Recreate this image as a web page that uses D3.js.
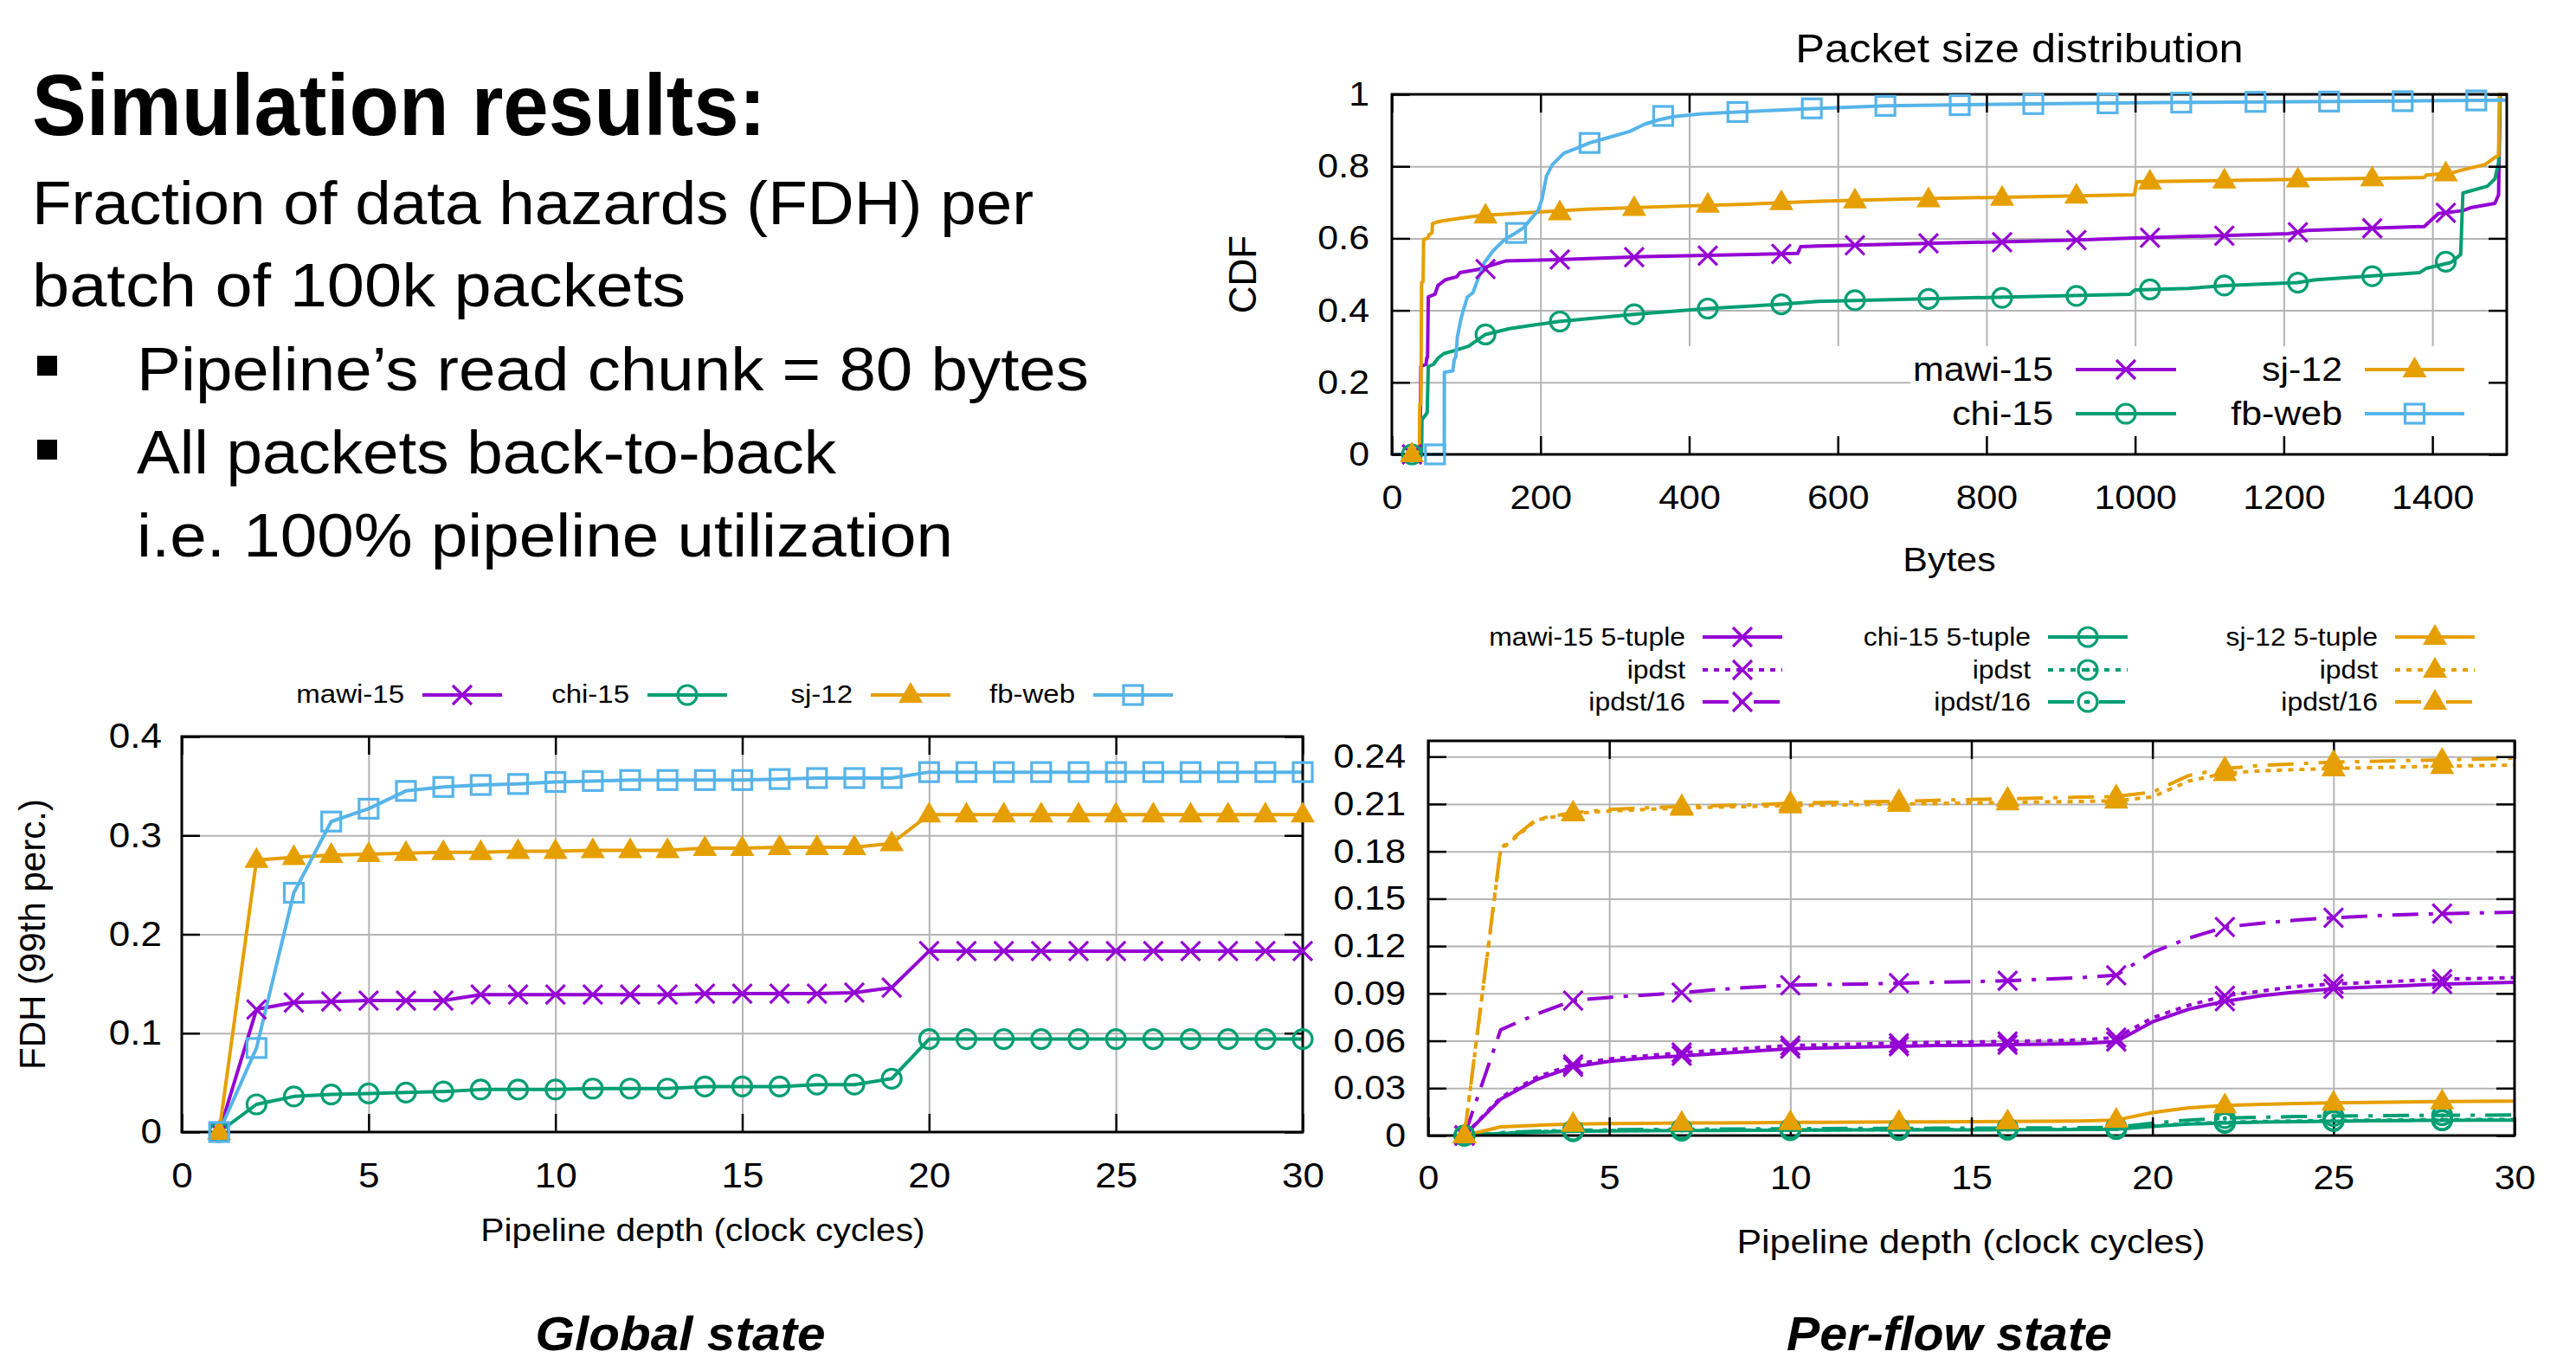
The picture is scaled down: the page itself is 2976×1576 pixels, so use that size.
<!DOCTYPE html>
<html lang="en">
<head>
<meta charset="UTF-8">
<title>Simulation results</title>
<script src="https://cdn.jsdelivr.net/npm/d3@7"></script>
<style>
  * { margin: 0; padding: 0; box-sizing: border-box; }
  body { background: #fff; width: 2976px; height: 1576px; overflow: hidden; }
  svg { display: block; }
</style>
</head>
<body>
<svg id="slide" width="2976" height="1576"></svg>
<script>
// ---------- data ----------
// packet size CDF (bytes, cdf)
const cdfMawi = [[0,0],[38,0],[38.5,0.14],[39,0.244],[46,0.25],[47,0.268],[48,0.27],[49,0.437],[58,0.445],[62,0.469],[72,0.485],[87,0.493],[91.6,0.505],[115,0.513],[140,0.529],[153,0.537],[223,0.541],[340,0.549],[546,0.558],[550,0.577],[573,0.579],[914,0.595],[999,0.601],[1206,0.613],[1231,0.622],[1389,0.633],[1408,0.669],[1441,0.677],[1451,0.685],[1484,0.697],[1489,0.721],[1491,1.0]];
const cdfChi = [[0,0],[40,0],[40.5,0.096],[47.5,0.116],[49,0.244],[56,0.25],[62.5,0.268],[70,0.28],[84,0.288],[103,0.30],[126,0.333],[158,0.349],[197,0.361],[224,0.369],[325,0.389],[425,0.405],[524,0.417],[573,0.425],[993,0.445],[1000,0.457],[1072,0.461],[1121,0.469],[1218,0.477],[1243,0.485],[1383,0.505],[1392,0.517],[1425,0.533],[1438,0.555],[1441,0.726],[1474,0.745],[1484,0.765],[1489,0.81],[1491,1.0]];
const cdfSj = [[0,0],[37,0],[37.5,0.14],[39,0.14],[40,0.477],[42,0.48],[42.7,0.597],[48,0.6],[50,0.61],[54,0.615],[54.6,0.641],[62,0.646],[70,0.649],[95,0.657],[117,0.663],[150,0.667],[196,0.673],[262,0.681],[379,0.689],[476,0.695],[576,0.703],[700,0.71],[850,0.715],[999,0.721],[1002,0.757],[1200,0.763],[1389,0.769],[1392,0.776],[1425,0.781],[1440,0.79],[1471,0.805],[1484,0.825],[1489,0.83],[1490,1.0],[1500,1.0]];
const cdfFb = [[0,0],[70.5,0],[70.6,0.228],[82,0.232],[84,0.264],[86,0.27],[88,0.325],[92.6,0.373],[95.7,0.397],[101.5,0.437],[109,0.449],[117,0.493],[124.6,0.533],[136,0.565],[151.8,0.597],[165,0.613],[177,0.629],[186.7,0.653],[196.6,0.677],[202,0.709],[208,0.773],[216,0.805],[231.6,0.837],[247,0.849],[266,0.865],[293,0.881],[320,0.897],[340,0.917],[359,0.929],[379,0.938],[417,0.946],[464,0.951],[553,0.959],[664,0.968],[865,0.9736],[1060,0.9776],[1365,0.9816],[1500,0.984]];
// CDF point markers
const cdfMarkBytes = [27, 126, 226, 326, 425, 524, 623, 722, 821, 921, 1020, 1120, 1219, 1319, 1418];
const cdfMawiMarks = [0, 0.515, 0.541, 0.548, 0.552, 0.557, 0.581, 0.586, 0.589, 0.595, 0.602, 0.607, 0.617, 0.628, 0.671];
const cdfChiMarks  = [0, 0.333, 0.369, 0.389, 0.405, 0.417, 0.428, 0.432, 0.435, 0.440, 0.458, 0.469, 0.477, 0.495, 0.535];
const cdfSjMarks   = [0, 0.663, 0.672, 0.684, 0.693, 0.700, 0.705, 0.708, 0.712, 0.718, 0.757, 0.760, 0.763, 0.766, 0.780];
const cdfFbBytes   = [58, 167, 266, 365, 465, 565, 664, 764, 863, 963, 1062, 1162, 1261, 1360, 1459];
const cdfFbMarks   = [0, 0.615, 0.865, 0.94, 0.951, 0.961, 0.968, 0.970, 0.973, 0.975, 0.977, 0.979, 0.980, 0.981, 0.983];
const cdfXTicks = [0, 200, 400, 600, 800, 1000, 1200, 1400];
const cdfYTicks = [0, 0.2, 0.4, 0.6, 0.8, 1];

// pipeline depth (clock cycles)
const depth = [1,2,3,4,5,6,7,8,9,10,11,12,13,14,15,16,17,18,19,20,21,22,23,24,25,26,27,28,29,30];
const depthTicks = [0, 5, 10, 15, 20, 25, 30];

// global state, FDH 99th percentile
const globMawi = [0,0.124,0.131,0.132,0.133,0.133,0.133,0.139,0.139,0.139,0.139,0.139,0.139,0.140,0.140,0.140,0.140,0.141,0.146,0.183,0.183,0.183,0.183,0.183,0.183,0.183,0.183,0.183,0.183,0.183];
const globChi  = [0,0.028,0.036,0.038,0.039,0.040,0.041,0.043,0.043,0.043,0.044,0.044,0.044,0.046,0.046,0.046,0.048,0.048,0.054,0.094,0.094,0.094,0.094,0.094,0.094,0.094,0.094,0.094,0.094,0.094];
const globSj   = [0,0.275,0.278,0.280,0.281,0.282,0.283,0.283,0.284,0.284,0.285,0.285,0.285,0.287,0.287,0.288,0.288,0.288,0.292,0.321,0.321,0.321,0.321,0.321,0.321,0.321,0.321,0.321,0.321,0.321];
const globFb   = [0,0.085,0.242,0.314,0.327,0.345,0.349,0.351,0.352,0.354,0.355,0.356,0.356,0.356,0.356,0.357,0.358,0.358,0.358,0.364,0.364,0.364,0.364,0.364,0.364,0.364,0.364,0.364,0.364,0.364];
const globYTicks = [0, 0.1, 0.2, 0.3, 0.4];

// per-flow state
const pfMawi5  = [0,0.023,0.0355,0.0435,0.047,0.049,0.0505,0.052,0.0535,0.055,0.0555,0.056,0.0565,0.057,0.0572,0.0575,0.0578,0.0582,0.0595,0.072,0.080,0.085,0.0885,0.091,0.093,0.094,0.095,0.096,0.0965,0.097];
const pfMawiIp = [0,0.024,0.037,0.045,0.0485,0.0505,0.0525,0.054,0.0555,0.057,0.0575,0.058,0.0585,0.059,0.0593,0.0596,0.060,0.0605,0.062,0.0745,0.0825,0.0885,0.0915,0.0945,0.096,0.097,0.098,0.099,0.0995,0.100];
const pfMawi16 = [0,0.067,0.077,0.0855,0.0875,0.089,0.0905,0.0925,0.094,0.0952,0.0956,0.096,0.0965,0.097,0.0975,0.098,0.099,0.100,0.1015,0.116,0.125,0.132,0.1345,0.1365,0.138,0.139,0.140,0.1405,0.141,0.1415];
const pfChi5   = [0,0.0012,0.0022,0.0027,0.0029,0.0030,0.0031,0.0032,0.0033,0.0034,0.0034,0.0035,0.0035,0.0036,0.0036,0.0037,0.0037,0.0038,0.0040,0.0058,0.0072,0.0080,0.0085,0.0088,0.0091,0.0093,0.0095,0.0096,0.0097,0.0098];
const pfChiIp  = [0,0.0014,0.0024,0.0029,0.0031,0.0032,0.0033,0.0034,0.0035,0.0036,0.0036,0.0037,0.0037,0.0038,0.0038,0.0039,0.0039,0.0040,0.0042,0.0061,0.0076,0.0084,0.0089,0.0092,0.0095,0.0097,0.0099,0.0100,0.0101,0.0102];
const pfChi16  = [0,0.0018,0.0028,0.0033,0.0036,0.0038,0.0040,0.0041,0.0042,0.0043,0.0044,0.0045,0.0045,0.0046,0.0047,0.0047,0.0048,0.0049,0.0052,0.0078,0.0098,0.0110,0.0116,0.0120,0.0123,0.0125,0.0127,0.0128,0.0129,0.0130];
const pfSj5    = [0,0.0055,0.0065,0.0072,0.0075,0.0077,0.0079,0.0080,0.0081,0.0083,0.0084,0.0085,0.0086,0.0087,0.0088,0.0089,0.0090,0.0092,0.0098,0.0145,0.0175,0.0190,0.0198,0.0203,0.0207,0.0210,0.0213,0.0215,0.0217,0.0218];
const pfSjIp   = [0,0.181,0.200,0.204,0.2055,0.2065,0.2075,0.208,0.2085,0.209,0.2093,0.2096,0.210,0.2103,0.2106,0.211,0.2113,0.2116,0.212,0.2145,0.2245,0.2295,0.231,0.2318,0.2325,0.233,0.2335,0.234,0.2343,0.2347];
const pfSj16   = [0,0.182,0.2005,0.2045,0.2065,0.2075,0.2085,0.209,0.2095,0.2105,0.211,0.2113,0.2117,0.2123,0.2128,0.2133,0.2138,0.2143,0.2148,0.2175,0.228,0.2325,0.2345,0.2355,0.2365,0.237,0.2375,0.238,0.2385,0.239];
const pfYTicks = [0, 0.03, 0.06, 0.09, 0.12, 0.15, 0.18, 0.21, 0.24];

// ---------- styles ----------
const FONT = '"Liberation Sans", Arial, Helvetica, sans-serif';
const PURPLE = "#9400d3", GREEN = "#009e73", ORANGE = "#e69f00", BLUE = "#56b4e9";
const GRID = "#b4b4b4";
const SX = 1.1;   // plot text is a bit wider than Liberation Sans
const LW = 4;     // series line width

const svg = d3.select("#slide").attr("font-family", FONT);

function stretch(sel, sx) {
    sel.each(function () {
        const t = d3.select(this);
        const ax = +t.attr("x") || 0;
        t.attr("transform", `translate(${ax * (1 - sx)},0) scale(${sx},1)`);
    });
}

function drawMarker(g, type, cx, cy, color) {
    const s = 11;
    if (type === "x") {
        g.append("path")
            .attr("d", `M${cx - s},${cy - s}L${cx + s},${cy + s}M${cx - s},${cy + s}L${cx + s},${cy - s}`)
            .attr("stroke", color).attr("stroke-width", 3.2).attr("fill", "none");
    } else if (type === "circle" || type === "circledot") {
        g.append("circle").attr("cx", cx).attr("cy", cy).attr("r", s)
            .attr("stroke", color).attr("stroke-width", 3.2).attr("fill", "none");
        if (type === "circledot") {
            g.append("circle").attr("cx", cx).attr("cy", cy).attr("r", 2.5).attr("fill", color);
        }
    } else if (type === "square") {
        g.append("rect").attr("x", cx - s).attr("y", cy - s).attr("width", 2 * s).attr("height", 2 * s)
            .attr("stroke", color).attr("stroke-width", 3.2).attr("fill", "none");
    } else if (type === "triangle") {
        g.append("path").attr("d", `M${cx},${cy - 15}L${cx + 14},${cy + 9}L${cx - 14},${cy + 9}Z`)
            .attr("fill", color);
    }
}

// grid lines through d3 axes
function drawGrid(g, x, y, xTicks, yTicks) {
    const [L, R] = x.range(), [B, T] = y.range();
    const grid = g.append("g");
    grid.append("g").attr("class", "gx").attr("transform", `translate(0,${B})`)
        .call(d3.axisBottom(x).tickValues(xTicks.filter(t => x(t) > L + 1 && x(t) < R - 1))
            .tickSize(-(B - T)).tickFormat(""));
    grid.append("g").attr("class", "gy").attr("transform", `translate(${L},0)`)
        .call(d3.axisLeft(y).tickValues(yTicks.filter(t => y(t) < B - 1 && y(t) > T + 1))
            .tickSize(-(R - L)).tickFormat(""));
    grid.selectAll(".domain").remove();
    grid.selectAll("line").attr("stroke", GRID).attr("stroke-width", 2);
    return grid;
}

// inward ticks on four sides, labels, border
function drawAxes(g, x, y, xTicks, yTicks, fs, xPad, yPad) {
    const [L, R] = x.range(), [B, T] = y.range();
    const fmt = d => String(d);
    const axB = g.append("g").attr("transform", `translate(0,${B})`)
        .call(d3.axisBottom(x).tickValues(xTicks).tickSize(-21).tickPadding(xPad).tickFormat(fmt));
    const axT = g.append("g").attr("transform", `translate(0,${T})`)
        .call(d3.axisTop(x).tickValues(xTicks).tickSize(-21).tickFormat(""));
    const axL = g.append("g").attr("transform", `translate(${L},0)`)
        .call(d3.axisLeft(y).tickValues(yTicks).tickSize(-21).tickPadding(yPad).tickFormat(fmt));
    const axR = g.append("g").attr("transform", `translate(${R},0)`)
        .call(d3.axisRight(y).tickValues(yTicks).tickSize(-21).tickFormat(""));
    [axB, axT, axL, axR].forEach(a => {
        a.select(".domain").remove();
        a.attr("font-size", fs).attr("font-family", FONT);
        a.selectAll("line").attr("stroke", "#000").attr("stroke-width", 2.5);
        a.selectAll("text").attr("fill", "#000");
        stretch(a.selectAll("text"), SX);
    });
    g.append("rect").attr("x", L).attr("y", T).attr("width", R - L).attr("height", B - T)
        .attr("fill", "none").attr("stroke", "#000").attr("stroke-width", 3);
}

function legendItem(g, label, textEnd, baseline, s0, s1, lineY, color, dash, mk, fs) {
    const t = g.append("text").attr("x", textEnd).attr("y", baseline)
        .attr("text-anchor", "end").attr("font-size", fs).text(label);
    stretch(t, SX);
    g.append("line").attr("x1", s0).attr("x2", s1).attr("y1", lineY).attr("y2", lineY)
        .attr("stroke", color).attr("stroke-width", LW).attr("stroke-dasharray", dash);
    drawMarker(g, mk, (s0 + s1) / 2, lineY, color);
}

// ---------- slide text ----------
const txt = svg.append("g").attr("fill", "#000");
const slideLines = [
    { t: "Simulation results:", x: 37, y: 156, fs: 100, w: 848, bold: true },
    { t: "Fraction of data hazards (FDH) per", x: 37, y: 259, fs: 70, w: 1157 },
    { t: "batch of 100k packets", x: 37, y: 354, fs: 70, w: 755 },
    { t: "Pipeline\u2019s read chunk = 80 bytes", x: 158, y: 451, fs: 70, w: 1100 },
    { t: "All packets back-to-back", x: 158, y: 547, fs: 70, w: 808 },
    { t: "i.e. 100% pipeline utilization", x: 158, y: 643, fs: 70, w: 943 }
];
slideLines.forEach(l => {
    txt.append("text").attr("x", l.x).attr("y", l.y).attr("font-size", l.fs)
        .attr("font-weight", l.bold ? "bold" : "normal")
        .attr("textLength", l.w).attr("lengthAdjust", "spacingAndGlyphs").text(l.t);
});
[411, 508].forEach(top => txt.append("rect").attr("x", 43).attr("y", top).attr("width", 23).attr("height", 23));

txt.append("text").attr("x", 786).attr("y", 1560).attr("text-anchor", "middle")
    .attr("font-size", 56).attr("font-style", "italic").attr("font-weight", "bold")
    .attr("textLength", 335).attr("lengthAdjust", "spacingAndGlyphs").text("Global state");
txt.append("text").attr("x", 2252).attr("y", 1560).attr("text-anchor", "middle")
    .attr("font-size", 56).attr("font-style", "italic").attr("font-weight", "bold")
    .attr("textLength", 376).attr("lengthAdjust", "spacingAndGlyphs").text("Per-flow state");

// ---------- packet size distribution ----------
{
    const g = svg.append("g");
    const x = d3.scaleLinear().domain([0, 1500]).range([1608, 2896]);
    const y = d3.scaleLinear().domain([0, 1]).range([525, 109]);
    const keyTop = 400, keyLeft = 2207;

    const grid = drawGrid(g, x, y, cdfXTicks, cdfYTicks);
    // opaque key hides part of the grid
    grid.selectAll(".gx .tick").each(function (d) {
        if (d >= 400) d3.select(this).select("line").attr("y1", keyTop - y.range()[0]);
    });
    grid.selectAll(".gy .tick").each(function (d) {
        if (d === 0.2) d3.select(this).select("line").attr("x2", keyLeft - x.range()[0]);
    });

    const series = [
        { name: "mawi-15", color: PURPLE, mk: "x", line: cdfMawi, mx: cdfMarkBytes, my: cdfMawiMarks },
        { name: "chi-15", color: GREEN, mk: "circle", line: cdfChi, mx: cdfMarkBytes, my: cdfChiMarks },
        { name: "sj-12", color: ORANGE, mk: "triangle", line: cdfSj, mx: cdfMarkBytes, my: cdfSjMarks },
        { name: "fb-web", color: BLUE, mk: "square", line: cdfFb, mx: cdfFbBytes, my: cdfFbMarks }
    ];
    const line = d3.line().x(d => x(d[0])).y(d => y(d[1]));
    series.forEach(s => {
        g.append("path").datum(s.line).attr("d", line).attr("fill", "none")
            .attr("stroke", s.color).attr("stroke-width", LW).attr("stroke-linejoin", "round");
    });
    drawAxes(g, x, y, cdfXTicks, cdfYTicks, 39, 35, 26);
    series.forEach(s => {
        s.mx.forEach((b, i) => drawMarker(g, s.mk, x(b), y(s.my[i]), s.color));
    });

    const title = g.append("text").attr("x", 2333).attr("y", 72).attr("text-anchor", "middle")
        .attr("font-size", 46).text("Packet size distribution");
    stretch(title, SX);
    const xl = g.append("text").attr("x", 2252).attr("y", 660).attr("text-anchor", "middle")
        .attr("font-size", 39).text("Bytes");
    stretch(xl, SX);
    g.append("text").attr("transform", "translate(1451,317) rotate(-90)").attr("text-anchor", "middle")
        .attr("font-size", 44).text("CDF");

    const key = g.append("g");
    legendItem(key, "mawi-15", 2372, 440, 2398, 2514, 427, PURPLE, null, "x", 39);
    legendItem(key, "chi-15", 2372, 491, 2398, 2514, 478, GREEN, null, "circle", 39);
    legendItem(key, "sj-12", 2706, 440, 2732, 2847, 427, ORANGE, null, "triangle", 39);
    legendItem(key, "fb-web", 2706, 491, 2732, 2847, 478, BLUE, null, "square", 39);
}

// ---------- global state ----------
{
    const g = svg.append("g");
    const x = d3.scaleLinear().domain([0, 30]).range([210, 1505]);
    const y = d3.scaleLinear().domain([0, 0.4]).range([1308, 851]);
    drawGrid(g, x, y, depthTicks, globYTicks);

    const series = [
        { name: "mawi-15", color: PURPLE, mk: "x", v: globMawi },
        { name: "chi-15", color: GREEN, mk: "circle", v: globChi },
        { name: "sj-12", color: ORANGE, mk: "triangle", v: globSj },
        { name: "fb-web", color: BLUE, mk: "square", v: globFb }
    ];
    const line = d3.line().x((d, i) => x(depth[i])).y(d => y(d));
    series.forEach(s => {
        g.append("path").datum(s.v).attr("d", line).attr("fill", "none")
            .attr("stroke", s.color).attr("stroke-width", LW).attr("stroke-linejoin", "round");
    });
    drawAxes(g, x, y, depthTicks, globYTicks, 40, 36, 23);
    series.forEach(s => s.v.forEach((d, i) => drawMarker(g, s.mk, x(depth[i]), y(d), s.color)));

    const xl = g.append("text").attr("x", 812).attr("y", 1434).attr("text-anchor", "middle")
        .attr("font-size", 37).text("Pipeline depth (clock cycles)");
    stretch(xl, SX);
    g.append("text").attr("transform", `translate(52,${(851 + 1308) / 2}) rotate(-90)`)
        .attr("text-anchor", "middle").attr("font-size", 42).text("FDH (99th perc.)");

    const key = g.append("g");
    const ends = [467, 727, 985, 1242];
    series.forEach((s, i) => {
        legendItem(key, s.name, ends[i], 812, ends[i] + 21, ends[i] + 113, 803, s.color, null, s.mk, 30);
    });
}

// ---------- per-flow state ----------
{
    const g = svg.append("g");
    const x = d3.scaleLinear().domain([0, 30]).range([1650, 2905]);
    const y = d3.scaleLinear().domain([0, 0.25]).range([1312, 856]);
    drawGrid(g, x, y, depthTicks, pfYTicks);

    const SOLID = null, DOT = "6,7", DASHDOT = "30,12,5,12";
    const series = [
        { name: "mawi-15 5-tuple", color: PURPLE, mk: "x", dash: SOLID, v: pfMawi5 },
        { name: "ipdst", color: PURPLE, mk: "x", dash: DOT, v: pfMawiIp },
        { name: "ipdst/16", color: PURPLE, mk: "x", dash: DASHDOT, v: pfMawi16 },
        { name: "chi-15 5-tuple", color: GREEN, mk: "circle", dash: SOLID, v: pfChi5 },
        { name: "ipdst", color: GREEN, mk: "circledot", dash: DOT, v: pfChiIp },
        { name: "ipdst/16", color: GREEN, mk: "circledot", dash: DASHDOT, v: pfChi16 },
        { name: "sj-12 5-tuple", color: ORANGE, mk: "triangle", dash: SOLID, v: pfSj5 },
        { name: "ipdst", color: ORANGE, mk: "triangle", dash: DOT, v: pfSjIp },
        { name: "ipdst/16", color: ORANGE, mk: "triangle", dash: DASHDOT, v: pfSj16 }
    ];
    const line = d3.line().x((d, i) => x(depth[i])).y(d => y(d));
    series.forEach(s => {
        g.append("path").datum(s.v).attr("d", line).attr("fill", "none")
            .attr("stroke", s.color).attr("stroke-width", LW).attr("stroke-dasharray", s.dash)
            .attr("stroke-linejoin", "round");
    });
    drawAxes(g, x, y, depthTicks, pfYTicks, 39, 34, 26);
    series.forEach(s => s.v.forEach((d, i) => {
        if (i % 3 === 0) drawMarker(g, s.mk, x(depth[i]), y(d), s.color);
    }));

    const xl = g.append("text").attr("x", 2277).attr("y", 1448).attr("text-anchor", "middle")
        .attr("font-size", 39).text("Pipeline depth (clock cycles)");
    stretch(xl, SX);

    const key = g.append("g");
    const colEnd = [1947, 2346, 2747];
    const rowBase = [746, 784, 821];
    series.forEach((s, i) => {
        const c = Math.floor(i / 3), r = i % 3;
        legendItem(key, s.name, colEnd[c], rowBase[r], colEnd[c] + 20, colEnd[c] + 112,
            rowBase[r] - 10, s.color, s.dash, s.mk, 29);
    });
}
</script>
</body>
</html>
